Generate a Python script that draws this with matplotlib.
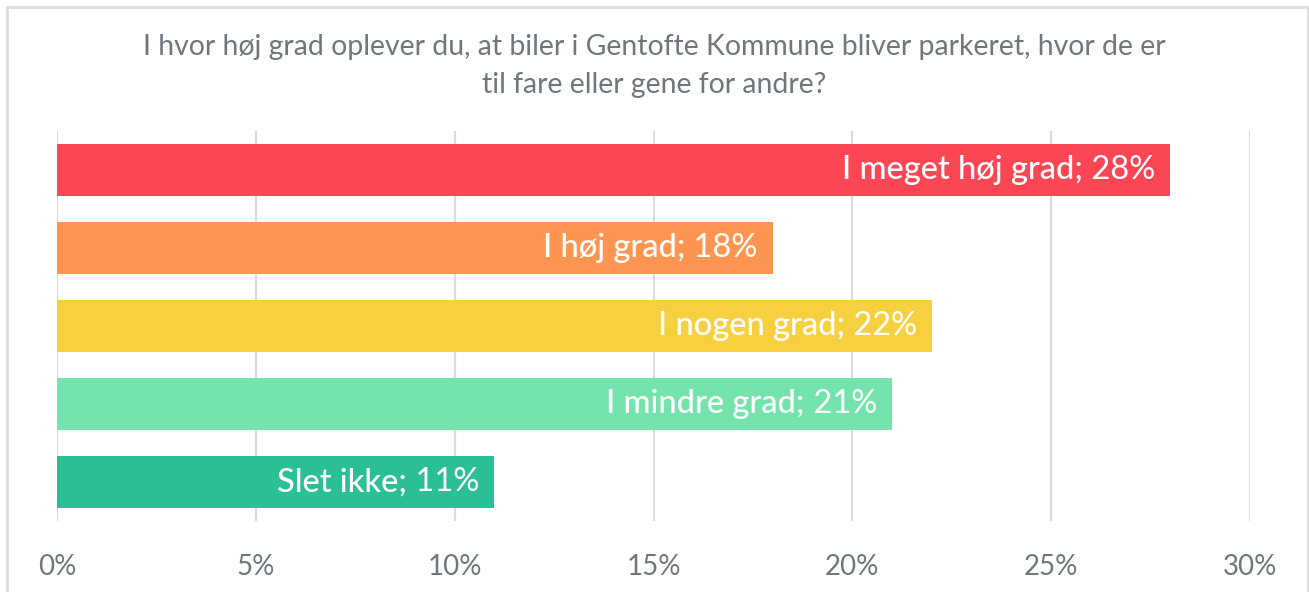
import matplotlib
matplotlib.use("Agg")
import matplotlib.pyplot as plt
from matplotlib.patches import Rectangle
from matplotlib.ticker import FuncFormatter

plt.rcParams['font.family'] = ['Lato', 'DejaVu Sans']

# data
categories = ['I meget høj grad', 'I høj grad', 'I nogen grad', 'I mindre grad', 'Slet ikke']
values = [28, 18, 22, 21, 11]
colors = ['#fc4653', '#ff9550', '#f7d040', '#74e4ac', '#2bbf96']
xticks = [0, 5, 10, 15, 20, 25, 30]
title = 'I hvor høj grad oplever du, at biler i Gentofte Kommune bliver parkeret, hvor de er\ntil fare eller gene for andre?'

W, H = 1309, 592
fig = plt.figure(figsize=(W / 100, H / 100), dpi=100)
ax = fig.add_axes([57 / W, 1 - 521 / H, (1250 - 57) / W, (521 - 131) / H])

ypos = list(range(len(categories)))
ax.barh(ypos, values, height=0.667, color=colors, zorder=2)
ax.set_ylim(len(categories) - 0.5, -0.5)
ax.set_xlim(0, 30)
ax.set_xticks(xticks)
ax.xaxis.set_major_formatter(FuncFormatter(lambda v, p: '%d%%' % v))
ax.tick_params(axis='x', length=0, pad=24, labelsize=20, labelcolor='#6f777d')
ax.tick_params(axis='y', left=False, labelleft=False)
ax.grid(axis='x', color='#dcdcdc', linewidth=1.6, zorder=0)
for s in ax.spines.values():
    s.set_visible(False)

fig.text(0.5, 1 - 66 / H, title, ha='center', va='center', fontsize=20.4,
         color='#6f777d', linespacing=1.55)

# frame around the chart
fig.patches.append(Rectangle((7 / W, -0.01), 1 - 8 / W, 1 - 7 / H + 0.01,
                             transform=fig.transFigure, fill=False,
                             edgecolor='#dddddd', linewidth=2))

fig.canvas.draw()
r = fig.canvas.get_renderer()
for i, (c, v) in enumerate(zip(categories, values)):
    t2 = ax.annotate(' %d%%' % v, (v, i), xytext=(-15, 0), textcoords='offset pixels',
                     ha='right', va='center', fontsize=23.5, color='white', zorder=3)
    w = t2.get_window_extent(r).width
    ax.annotate(c + ';', (v, i), xytext=(-15 - w, 0), textcoords='offset pixels',
                ha='right', va='center', fontsize=23.5, color='white',
                fontweight='medium', zorder=3)

fig.savefig('out.png', dpi=100)
